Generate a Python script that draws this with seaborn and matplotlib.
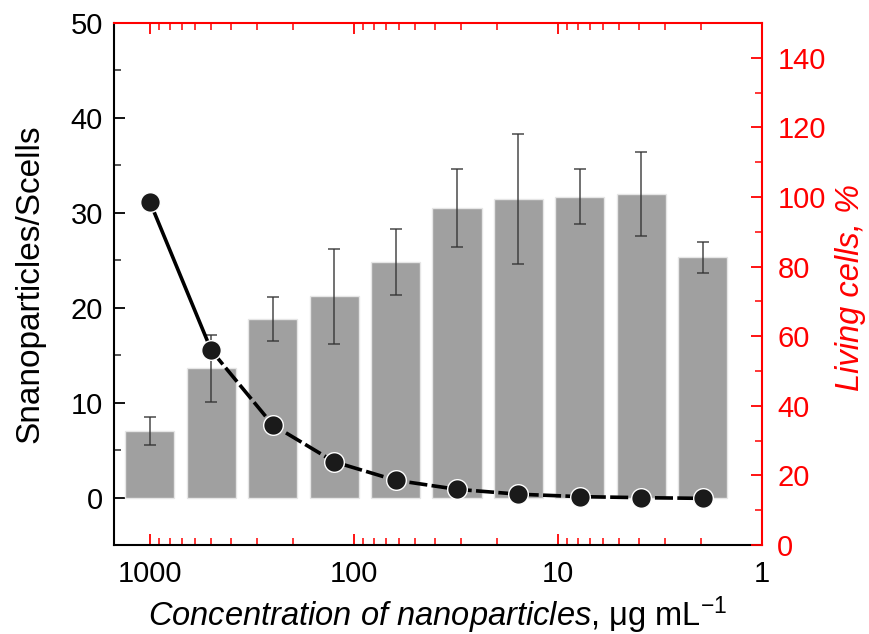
import numpy as np
import pandas as pd
import matplotlib
matplotlib.use("Agg")
import matplotlib.pyplot as plt
import matplotlib.ticker as mticker
import seaborn as sns

# ---- data ----
concentration = [1000, 500, 250, 125, 62.5, 31.25, 15.625, 7.8125, 3.90625, 1.953125]
ratio = [7.0, 13.6, 18.8, 21.2, 24.8, 30.5, 31.5, 31.7, 32.0, 25.3]
ratio_err = [1.5, 3.5, 2.35, 5.0, 3.5, 4.15, 6.85, 2.9, 4.4, 1.65]
living = [98.6, 55.9, 34.5, 23.9, 18.6, 16.0, 14.6, 13.9, 13.6, 13.4]

x_ticks = [1000, 100, 10, 1]
x_ticklabels = ["1000", "100", "10", "1"]

sns.set_style("ticks")
plt.rcParams['font.family'] = ['Liberation Sans', 'DejaVu Sans']
plt.rcParams['mathtext.fontset'] = 'custom'
plt.rcParams['mathtext.rm'] = 'Liberation Sans'
plt.rcParams['mathtext.it'] = 'Liberation Sans:italic'
plt.rcParams['text.color'] = 'black'
plt.rcParams['axes.labelcolor'] = 'black'

fig = plt.figure(figsize=(8.69, 6.34), dpi=100)
ax = fig.add_axes([114/869, 1-545/634, (762-114)/869, (545-23)/634])
ax.set_xscale('log')

df = pd.DataFrame({"conc": concentration, "ratio": ratio, "err": ratio_err, "living": living})

sns.barplot(data=df, x="conc", y="ratio", native_scale=True, ax=ax,
            color="#a0a0a0", saturation=1, errorbar=None, width=0.8,
            edgecolor="#e6e6e6", linewidth=1.0)
ax.errorbar(df["conc"], df["ratio"], yerr=df["err"], fmt='none',
            ecolor="#333333", alpha=0.75, elinewidth=1.3, capsize=4, capthick=1.3, zorder=3)

ax.set_xlim(1500, 1)
ax.set_ylim(-5, 50)
ax.set_xticks(x_ticks)
ax.set_xticklabels(x_ticklabels)
ax.xaxis.set_minor_locator(mticker.LogLocator(base=10, subs=np.arange(2, 10)))
ax.xaxis.set_minor_formatter(mticker.NullFormatter())
ax.yaxis.set_major_locator(mticker.MultipleLocator(10))
ax.yaxis.set_minor_locator(mticker.MultipleLocator(5))
ax.tick_params(axis='both', which='major', direction='in', length=8, width=1.3,
               labelsize=21, colors='black')
ax.tick_params(axis='both', which='minor', direction='in', length=5, width=1.1)
ax.tick_params(axis='x', which='both', top=True, bottom=True, pad=11)
ax.tick_params(axis='y', which='major', pad=8)
ax.tick_params(axis='x', which='both', color='red')
ax.set_xlabel(r"$\it{Concentration\ of\ nanoparticles}$, μg mL$^{-1}$", fontsize=23.5)
ax.xaxis.set_label_coords(0.5, -0.094)
ax.set_ylabel("Snanoparticles/Scells", fontsize=24)
ax.yaxis.set_label_coords(-0.106, 0.5)
for s in ['left', 'bottom']:
    ax.spines[s].set_color('black')
    ax.spines[s].set_linewidth(1.5)
ax.spines['top'].set_color('red')
ax.spines['top'].set_linewidth(1.5)
ax.spines['right'].set_visible(False)

ax2 = ax.twinx()
sns.lineplot(x=df["conc"][:2], y=df["living"][:2], ax=ax2, color='black', lw=2.6, sort=False)
sns.lineplot(x=df["conc"][1:], y=df["living"][1:], ax=ax2, color='black', lw=2.6,
             sort=False)
ax2.lines[-1].set_dashes((5, 1.2))
sns.scatterplot(x=df["conc"], y=df["living"], ax=ax2, s=200, color='#1a1a1a',
                edgecolor='white', linewidth=1.0, zorder=5)
ax2.set_xlim(1500, 1)
ax2.set_ylim(0, 150)
ax2.set_yticks([0, 20, 40, 60, 80, 100, 120, 140])
ax2.yaxis.set_minor_locator(mticker.MultipleLocator(10))
ax2.tick_params(axis='y', which='major', direction='in', length=8, width=1.3,
                labelsize=21, colors='red', pad=11)
ax2.tick_params(axis='y', which='minor', direction='in', length=5, width=1.1, colors='red')
ax2.set_ylabel("Living cells, %", fontsize=23.5, color='red', style='italic')
ax2.yaxis.set_label_coords(1.112, 0.494)
ax2.set_xlabel("")
ax2.spines['right'].set_color('red')
ax2.spines['right'].set_linewidth(1.5)
for s in ['top', 'left', 'bottom']:
    ax2.spines[s].set_visible(False)

fig.savefig("out.png", dpi=100)
